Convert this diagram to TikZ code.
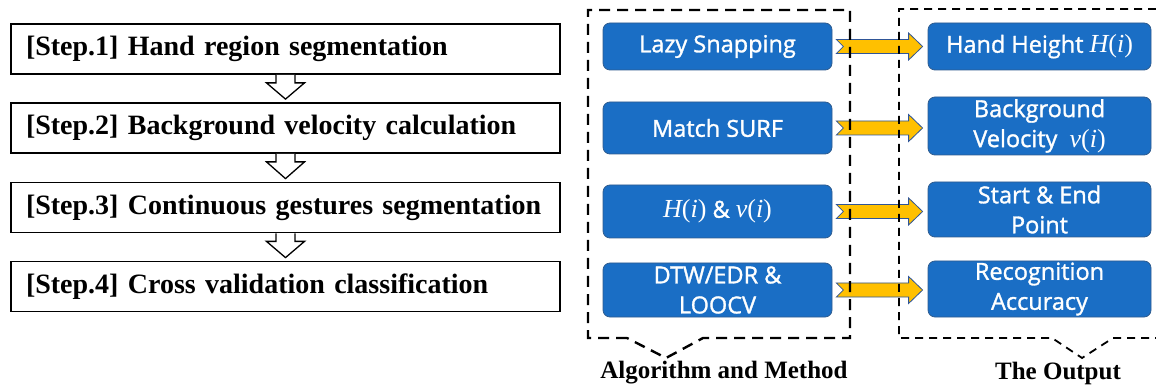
\documentclass[tikz,border=0pt]{standalone}
\usepackage{fontspec}
\setmainfont{Liberation Serif}
\newfontfamily\osans[FakeBold=1.3]{Open Sans}
\newfontfamily\tms{Liberation Serif}
\usetikzlibrary{calc}
\definecolor{boxblue}{HTML}{1A6EC5}
\definecolor{boxedge}{HTML}{2F5C8F}
\definecolor{arrowyellow}{HTML}{FFC000}
\definecolor{arrowedge}{HTML}{2F5597}
\newcommand\myHi{{\fontsize{26}{30}\selectfont\tms\itshape H\upshape(\itshape i\upshape)}}
\newcommand\myvi{{\fontsize{26}{30}\selectfont\tms\itshape v\upshape(\itshape i\upshape)}}
\newcommand\yarrow[2]{%
  \path (#1.east) ++(4,0) coordinate (ta);
  \path (#2.west |- #1.east) ++(-5,0) coordinate (tb);
  \draw[yarr] ($(ta)+(0,-7)$) -- ($(tb)+(-14,-7)$) -- ($(tb)+(-14,-13.5)$) -- (tb)
    -- ($(tb)+(-14,13.5)$) -- ($(tb)+(-14,7)$) -- ($(ta)+(0,7)$) -- ($(ta)+(7,0)$) -- cycle;}
\newcommand\harrow[2]{%
  \filldraw[harr] ($(#1.south)+(-9.5,0)$) -- ($(#1.south)+(-9.5,8)$) -- ($(#1.south)+(-19,8)$)
    -- ($(#2.north)+(0,-3)$) -- ($(#1.south)+(19,8)$) -- ($(#1.south)+(9.5,8)$) -- ($(#1.south)+(9.5,0)$);}
\tikzset{
  stepbox/.style={draw=black, line width=1.8pt, fill=white, minimum height=50pt,
    text width=519pt, inner xsep=15pt, inner ysep=0pt, align=left,
    font=\fontsize{28}{32}\selectfont\bfseries},
  bluebox/.style={draw=boxedge, line width=0.8pt, fill=boxblue, rounded corners=7pt,
    text=white, align=center, inner sep=0pt, font=\osans\fontsize{23.5}{30}\selectfont},
  yarr/.style={fill=arrowyellow, draw=arrowedge, line width=0.8pt, line join=miter},
  harr/.style={fill=white, draw=black, line width=1.3pt, line join=miter},
  grpA/.style={draw=black, line width=2.4pt, dash pattern=on 11pt off 7pt},
  grpB/.style={draw=black, line width=1.8pt, dash pattern=on 8pt off 6pt},
  grplabel/.style={font=\fontsize{25}{28}\selectfont\bfseries, inner sep=0pt}
}
\begin{document}
\begin{tikzpicture}[x=1pt,y=-1pt]
\useasboundingbox (0,0) rectangle (1156,387);
% left steps
\node[stepbox] (s1) at (285.5,49) {[Step.1] Hand region segmentation};
\node[stepbox] (s2) at (285.5,128) {[Step.2] Background velocity calculation};
\node[stepbox] (s3) at (285.5,207.5) {[Step.3] Continuous gestures segmentation};
\node[stepbox] (s4) at (285.5,286.5) {[Step.4] Cross validation classification};
\harrow{s1}{s2}
\harrow{s2}{s3}
\harrow{s3}{s4}
% methods
\node[bluebox, minimum width=229pt, minimum height=47pt] (a1) at (717.5,46.5) {Lazy Snapping};
\node[bluebox, minimum width=229pt, minimum height=52pt] (a2) at (717.5,128) {Match SURF};
\node[bluebox, minimum width=229pt, minimum height=53pt] (a3) at (717.5,211.5) {\myHi{} \& \myvi};
\node[bluebox, minimum width=229pt, minimum height=54pt] (a4) at (717.5,290) {DTW/EDR \&\\LOOCV};
% outputs
\node[bluebox, minimum width=223pt, minimum height=47pt] (b1) at (1039.5,46.5) {Hand Height \myHi};
\node[bluebox, minimum width=223pt, minimum height=58pt] (b2) at (1039.5,126) {Background\\Velocity\ \ \myvi};
\node[bluebox, minimum width=223pt, minimum height=55pt] (b3) at (1039.5,209.5) {Start \& End\\Point};
\node[bluebox, minimum width=223pt, minimum height=56pt] (b4) at (1039.5,289) {Recognition\\Accuracy};
\yarrow{a1}{b1}
\yarrow{a2}{b2}
\yarrow{a3}{b3}
\yarrow{a4}{b4}
% group frames
\draw[grpA] (627,338) -- (588,338) -- (588,10) -- (850,10) -- (850,338) -- (703,338) -- (666,358) -- cycle;
\draw[grpB] (1156,9) -- (899,9) -- (899,338) -- (1052,338) -- (1082,358) -- (1113,338) -- (1156,338);
\node[grplabel] (la) at (724,373) {Algorithm and Method};
\node[grplabel] (lb) at (1058,373) {The Output};
\end{tikzpicture}
\end{document}
